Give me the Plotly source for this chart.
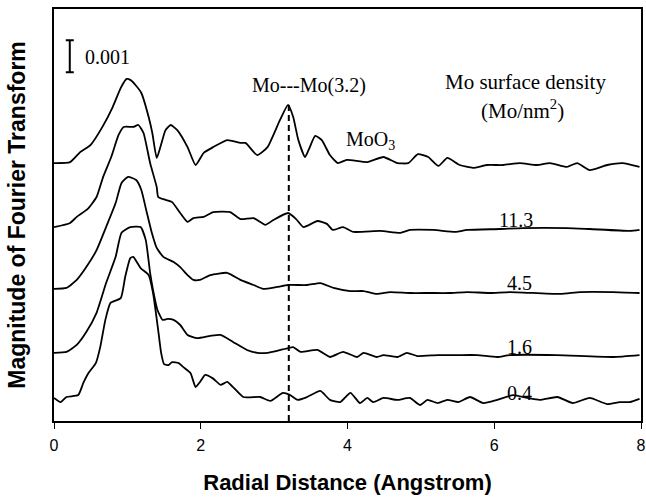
import plotly.graph_objects as go

# Radial distance (Angstrom) and stacked FT magnitude (units of 0.001, offset per trace)
moo3_x = [0.00,0.22,0.36,0.50,0.66,0.80,0.91,0.99,1.04,1.11,1.19,1.29,1.34,1.40,1.45,1.52,1.59,1.68,1.82,1.93,
          2.04,2.17,2.36,2.54,2.61,2.77,2.91,3.08,3.19,3.26,3.33,3.42,3.47,3.56,3.65,3.76,3.87,3.99,4.27,4.49,
          4.68,4.83,4.96,5.10,5.24,5.36,5.53,5.71,5.90,6.12,6.35,6.58,6.76,6.99,7.13,7.30,7.54,7.75,7.98]
moo3_y = [8.06,8.09,8.41,8.63,9.19,9.81,10.41,10.69,10.66,10.50,10.25,9.50,9.00,8.22,8.56,9.09,9.25,9.09,8.56,8.00,
          8.38,8.56,8.78,8.69,8.69,8.31,8.56,9.41,9.88,9.50,8.78,8.25,8.47,8.91,8.78,8.31,8.06,8.16,8.09,8.25,
          8.06,8.06,8.34,8.25,7.97,8.22,8.00,7.91,8.00,8.00,8.06,8.00,8.06,7.94,8.06,7.84,8.00,8.06,7.94]

d113_x = [0.00,0.22,0.31,0.46,0.58,0.67,0.78,0.88,0.95,1.08,1.15,1.22,1.31,1.40,1.42,1.52,1.61,1.72,1.82,1.90,
          2.04,2.17,2.40,2.54,2.72,2.88,2.99,3.19,3.30,3.40,3.59,3.72,3.80,3.94,4.08,4.45,4.72,4.85,5.17,5.47,
          5.63,6.08,6.39,6.99,7.30,7.85,7.98]
d113_y = [6.06,6.19,6.38,6.63,7.00,7.63,8.25,8.94,9.19,9.19,9.25,9.00,8.06,7.31,7.00,6.91,6.84,6.50,6.22,6.34,
          6.38,6.53,6.53,6.31,6.34,6.13,6.28,6.50,6.31,6.06,6.25,6.16,5.97,6.06,5.91,5.94,5.88,5.97,5.97,5.91,
          5.97,6.00,6.03,6.03,6.00,5.94,5.97]

d45_x = [0.00,0.17,0.31,0.44,0.58,0.71,0.84,0.92,1.01,1.12,1.19,1.26,1.33,1.40,1.49,1.63,1.72,1.82,1.90,1.99,
         2.13,2.36,2.54,2.72,2.85,3.04,3.19,3.45,3.63,3.81,4.04,4.22,4.40,4.58,4.85,5.12,5.39,5.63,5.94,6.21,
         6.90,7.17,7.62,7.98]
d45_y = [4.13,4.16,4.41,4.81,5.34,6.06,6.81,7.44,7.63,7.53,7.22,6.56,5.91,5.41,5.13,4.97,4.81,4.56,4.41,4.41,
         4.56,4.63,4.41,4.25,4.13,4.19,4.25,4.25,4.31,4.16,4.06,4.06,3.97,4.03,4.00,4.00,4.00,4.03,4.00,4.03,
         3.97,4.03,4.03,4.00]

d16_x = [0.00,0.17,0.31,0.44,0.58,0.71,0.84,0.92,1.04,1.18,1.25,1.31,1.35,1.41,1.48,1.55,1.63,1.72,1.82,1.95,
         2.13,2.27,2.44,2.63,2.77,2.91,3.04,3.19,3.26,3.36,3.59,3.76,3.94,4.13,4.22,4.40,4.49,4.68,4.81,4.95,
         5.23,5.50,5.77,6.04,6.21,6.85,7.62,7.98]
d16_y = [2.13,2.16,2.38,2.78,3.38,4.31,5.13,5.88,6.06,6.06,5.66,4.63,4.09,3.47,3.16,3.19,3.16,3.00,2.69,2.59,
         2.66,2.69,2.47,2.22,2.13,2.13,2.19,2.28,2.31,2.16,2.22,2.00,2.16,2.00,2.13,2.00,2.06,2.00,2.13,2.03,
         2.06,2.06,2.06,2.00,2.06,2.06,2.00,2.06]

d04_x = [0.00,0.09,0.17,0.33,0.40,0.47,0.57,0.63,0.70,0.77,0.91,0.97,1.04,1.08,1.18,1.29,1.35,1.42,1.46,1.50,
         1.56,1.61,1.70,1.76,1.86,1.93,1.99,2.06,2.16,2.27,2.36,2.44,2.58,2.81,2.95,3.12,3.22,3.32,3.45,3.63,
         3.76,3.90,4.04,4.17,4.27,4.35,4.49,4.68,4.85,4.99,5.09,5.23,5.36,5.51,5.67,5.85,6.04,6.26,6.45,6.62,
         6.86,7.07,7.30,7.54,7.71,7.85,7.98]
d04_y = [0.72,0.59,0.75,0.81,1.19,1.50,1.81,2.31,3.16,3.69,3.84,4.50,5.09,5.13,4.78,4.56,4.00,2.84,2.13,1.78,
         1.75,1.84,1.81,1.69,1.50,1.06,1.22,1.44,1.34,1.13,1.22,1.06,0.75,0.75,0.63,0.88,0.81,0.66,0.75,0.94,
         0.66,0.59,0.88,0.56,0.72,0.59,0.72,0.66,0.72,0.50,0.66,0.56,0.66,0.59,0.75,0.56,0.66,0.81,0.72,0.66,
         0.75,0.56,0.72,0.53,0.59,0.59,0.69]

series = [(moo3_x, moo3_y, "MoO3"), (d113_x, d113_y, "11.3"), (d45_x, d45_y, "4.5"),
          (d16_x, d16_y, "1.6"), (d04_x, d04_y, "0.4")]

density_labels = ["11.3", "4.5", "1.6", "0.4"]
density_label_x = [6.29, 6.35, 6.35, 6.35]
density_label_y = [6.28, 4.31, 2.31, 0.88]

momo_x = 3.2          # Mo---Mo distance marker
momo_top = 9.88
scale_x, scale_mid, scale_half = 0.215, 11.4, 0.5   # 0.001 scale bar

serif = "Times New Roman, Liberation Serif, serif"
sans = "Arial, Liberation Sans, sans-serif"

fig = go.Figure()
for xs, ys, name in series:
    fig.add_trace(go.Scatter(x=xs, y=ys, mode="lines", name=name,
                             line=dict(color="black", width=1.8, shape="spline", smoothing=0.5),
                             showlegend=False))

fig.add_trace(go.Scatter(x=[momo_x, momo_x], y=[0, momo_top], mode="lines",
                         line=dict(color="black", width=2, dash="6px,4px"), showlegend=False))

fig.add_trace(go.Scatter(x=[scale_x], y=[scale_mid], mode="markers",
                         marker=dict(size=1, color="black", opacity=0),
                         error_y=dict(type="constant", value=scale_half, color="black",
                                      thickness=2, width=4),
                         showlegend=False))

ann = [
    dict(x=0.39, y=11.375, text="0.001", xanchor="left", size=20),
    dict(x=3.47, y=10.5, text="Mo---Mo(3.2)", size=20),
    dict(x=6.43, y=10.59, text="Mo surface density", size=21),
    dict(x=6.39, y=9.72, text="(Mo/nm<sup>2</sup>)", size=21),
    dict(x=4.32, y=8.78, text="MoO<sub>3</sub>", size=20),
]
for t, lx, ly in zip(density_labels, density_label_x, density_label_y):
    ann.append(dict(x=lx, y=ly, text=t, size=20))
for a in ann:
    a.setdefault("xanchor", "center")
    size = a.pop("size")
    fig.add_annotation(**a, yanchor="middle", showarrow=False,
                       font=dict(family=serif, size=size, color="black"))

fig.update_layout(
    width=646, height=498,
    margin=dict(l=54, r=5, t=9, b=77),
    paper_bgcolor="white", plot_bgcolor="white",
    xaxis=dict(range=[0, 8], tickvals=[0, 2, 4, 6, 8], ticks="outside", ticklen=6,
               tickcolor="black", showline=True, linecolor="black", linewidth=1.5, mirror=True,
               showgrid=False, zeroline=False, automargin=False, ticklabelstandoff=3,
               tickfont=dict(family=sans, size=16, color="black"),
               title=dict(text="<b>Radial Distance (Angstrom)</b>", standoff=22,
                          font=dict(family=sans, size=22, color="black"))),
    yaxis=dict(range=[0, 12.875], showticklabels=False, ticks="", showline=True,
               linecolor="black", linewidth=1.5, mirror=True, showgrid=False, zeroline=False,
               automargin=False,
               title=dict(text="<b>Magnitude of Fourier Transform</b>", standoff=20,
                          font=dict(family=sans, size=23, color="black"))),
)

fig.write_html("out.html", config={"displayModeBar": False},
               post_script="document.body.style.margin='0';document.body.style.overflow='hidden';")
